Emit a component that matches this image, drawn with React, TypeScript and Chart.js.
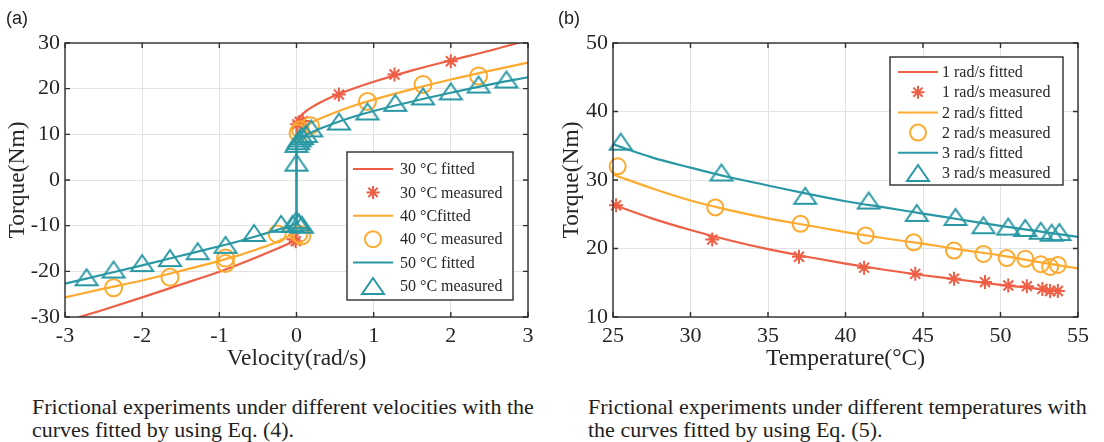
import React, { useEffect, useRef } from 'react';
import { Chart, registerables } from 'chart.js';

Chart.register(...registerables);

// ---------------- (a) torque vs velocity ----------------
const velMin = -3;
const velMax = 3;
const velStep = 1;
const torqueAMin = -30;
const torqueAMax = 30;
const torqueAStep = 10;

const velFitX = [-3, -2.5, -2, -1.5, -1, -0.75, -0.5, -0.3, -0.15, -0.05, 0, 0, 0.05, 0.15, 0.3, 0.5, 0.75, 1, 1.5, 2, 2.5, 3];
const fit30C = [-31.0, -28.4, -25.7, -22.9, -20.1, -18.5, -16.8, -15.4, -14.3, -13.5, -13.0, 12.3, 13.9, 15.4, 16.9, 18.5, 20.1, 21.5, 24.0, 26.2, 28.3, 30.6];
const fit40C = [-25.7, -23.8, -22.0, -19.9, -17.7, -16.5, -15.1, -13.9, -12.7, -11.8, -11.0, 10.0, 11.0, 12.2, 13.4, 14.8, 16.3, 17.6, 19.9, 22.0, 23.9, 25.7];
const fit50C = [-22.7, -20.7, -18.7, -16.6, -14.5, -13.4, -12.2, -11.2, -10.4, -9.9, -9.5, 8.0, 9.0, 10.1, 11.2, 12.5, 13.9, 15.1, 17.2, 19.1, 20.9, 22.5];

const meas30X = [-0.04, -0.01, 0.01, 0.04, 0.08, 0.55, 1.27, 2.0];
const meas30Y = [-13.0, -13.4, 12.2, 12.7, 12.9, 18.7, 23.1, 26.0];
const meas40X = [-2.37, -1.64, -0.92, -0.92, -0.25, 0.03, 0.07, 0.02, 0.05, 0.18, 0.92, 1.64, 2.36];
const meas40Y = [-23.6, -21.3, -17.1, -18.3, -11.8, -11.8, -12.2, 10.3, 11.0, 11.9, 17.2, 20.9, 22.8];
const meas50X = [-2.72, -2.37, -2.0, -1.64, -1.28, -0.92, -0.55, -0.2, -0.05, 0, 0.03, 0.07, 0, 0, 0.02, 0.04, 0.07, 0.12, 0.19, 0.55, 0.92, 1.28, 1.64, 2.0, 2.36, 2.72];
const meas50Y = [-21.3, -19.6, -18.2, -17.1, -15.6, -14.2, -11.6, -9.6, -9.6, -8.8, -9.3, -9.8, 3.8, 7.9, 8.5, 9.1, 9.6, 10.1, 11.3, 12.8, 15.0, 16.9, 18.3, 19.4, 20.9, 22.0];

const legendA = ['30 °C fitted', '30 °C measured', '40 °Cfitted', '40 °C measured', '50 °C fitted', '50 °C measured'];

// ---------------- (b) torque vs temperature ----------------
const tempMin = 25;
const tempMax = 55;
const tempStep = 5;
const torqueBMin = 10;
const torqueBMax = 50;
const torqueBStep = 10;

const fit1RadX = [25, 27.5, 30, 32.5, 35, 37.5, 40, 42.5, 45, 47.5, 50, 52.5, 54];
const fit1Rad = [26.4, 24.4, 22.7, 21.2, 19.9, 18.8, 17.8, 16.9, 16.1, 15.4, 14.7, 14.1, 13.8];
const tempFitX = [25, 27.5, 30, 32.5, 35, 37.5, 40, 42.5, 45, 47.5, 50, 52.5, 55];
const fit2Rad = [30.8, 28.8, 27.0, 25.6, 24.4, 23.4, 22.4, 21.5, 20.7, 19.8, 19.0, 18.0, 17.1];
const fit3Rad = [35.2, 33.3, 31.8, 30.4, 29.2, 28.0, 26.9, 26.0, 25.1, 24.2, 23.3, 22.5, 21.7];

const meas1RadX = [25.2, 31.4, 37.0, 41.2, 44.5, 47.0, 49.0, 50.5, 51.7, 52.7, 53.2, 53.7];
const meas1RadY = [26.3, 21.3, 18.8, 17.2, 16.3, 15.6, 15.1, 14.6, 14.5, 14.1, 13.8, 13.8];
const meas2RadX = [25.3, 31.6, 37.1, 41.3, 44.4, 47.0, 48.9, 50.4, 51.6, 52.6, 53.2, 53.7];
const meas2RadY = [32.0, 26.0, 23.6, 21.9, 20.9, 19.7, 19.2, 18.6, 18.5, 17.7, 17.3, 17.6];
const meas3RadX = [25.5, 32.0, 37.4, 41.5, 44.6, 47.1, 48.9, 50.5, 51.6, 52.6, 53.3, 53.8];
const meas3RadY = [35.6, 31.1, 27.7, 27.0, 25.2, 24.6, 23.4, 23.2, 23.0, 22.6, 22.3, 22.4];

const legendB = ['1 rad/s fitted', '1 rad/s measured', '2 rad/s fitted', '2 rad/s measured', '3 rad/s fitted', '3 rad/s measured'];

// ---------------- styles ----------------
const RED = '#EF5F46';
const ORANGE = '#FDAA2E';
const TEAL = '#2A98A4';
const INK = '#262626';
const GRID = '#e2e2e2';
const SERIF = '"Liberation Serif", "Times New Roman", serif';

const pts = (xs: number[], ys: number[]) => xs.map((x, i) => ({ x, y: ys[i] }));

function makeTriangle(color: string) {
  const c = document.createElement('canvas');
  const w = 22, h = 16, m = 3;
  c.width = w + 2 * m;
  c.height = h + 2 * m;
  const g = c.getContext('2d')!;
  g.strokeStyle = color;
  g.lineWidth = 2;
  g.lineJoin = 'miter';
  g.beginPath();
  g.moveTo(m + w / 2, m);
  g.lineTo(m + w, m + h);
  g.lineTo(m, m + h);
  g.closePath();
  g.stroke();
  return c;
}

function drawMarker(ctx: CanvasRenderingContext2D, kind: string, x: number, y: number, color: string, img?: HTMLCanvasElement) {
  ctx.save();
  ctx.strokeStyle = color;
  ctx.lineWidth = 2;
  ctx.beginPath();
  if (kind === 'circle') {
    ctx.arc(x, y, 8, 0, Math.PI * 2);
    ctx.stroke();
  } else if (kind === 'star') {
    const r = 6.5;
    for (let k = 0; k < 4; k++) {
      const a = (k * Math.PI) / 4;
      ctx.moveTo(x - Math.cos(a) * r, y - Math.sin(a) * r);
      ctx.lineTo(x + Math.cos(a) * r, y + Math.sin(a) * r);
    }
    ctx.stroke();
  } else if (kind === 'triangle' && img) {
    ctx.drawImage(img, x - img.width / 2, y - img.height / 2);
  }
  ctx.restore();
}

const framePlugin = {
  id: 'matlabFrame',
  afterDatasetsDraw(chart: any) {
    const { ctx, chartArea: a, scales } = chart;
    ctx.save();
    ctx.strokeStyle = '#2e2e2e';
    ctx.lineWidth = 1.4;
    ctx.strokeRect(a.left, a.top, a.right - a.left, a.bottom - a.top);
    const L = 5;
    ctx.beginPath();
    scales.x.ticks.forEach((t: any) => {
      const px = scales.x.getPixelForValue(t.value);
      ctx.moveTo(px, a.bottom);
      ctx.lineTo(px, a.bottom - L);
      ctx.moveTo(px, a.top);
      ctx.lineTo(px, a.top + L);
    });
    scales.y.ticks.forEach((t: any) => {
      const py = scales.y.getPixelForValue(t.value);
      ctx.moveTo(a.left, py);
      ctx.lineTo(a.left + L, py);
      ctx.moveTo(a.right, py);
      ctx.lineTo(a.right - L, py);
    });
    ctx.stroke();
    ctx.restore();
  },
};

const boxLegendPlugin = {
  id: 'boxLegend',
  afterDraw(chart: any, _args: any, o: any) {
    if (!o || !o.entries) return;
    const ctx: CanvasRenderingContext2D = chart.ctx;
    ctx.save();
    ctx.fillStyle = '#ffffff';
    ctx.fillRect(o.x, o.y, o.w, o.h);
    ctx.strokeStyle = '#2e2e2e';
    ctx.lineWidth = 1.4;
    ctx.strokeRect(o.x, o.y, o.w, o.h);
    ctx.font = `16px ${SERIF}`;
    ctx.textBaseline = 'middle';
    ctx.textAlign = 'left';
    o.entries.forEach((e: any, i: number) => {
      const y = o.row0 + i * o.rowStep;
      if (e.kind === 'line') {
        ctx.strokeStyle = e.color;
        ctx.lineWidth = 2;
        ctx.beginPath();
        ctx.moveTo(o.lineX0, y);
        ctx.lineTo(o.lineX1, y);
        ctx.stroke();
      } else {
        drawMarker(ctx, e.kind, (o.lineX0 + o.lineX1) / 2, y, e.color, e.img);
      }
      ctx.fillStyle = INK;
      ctx.fillText(e.label, o.textX, y + 1);
    });
    ctx.restore();
  },
};

function axisOptions(min: number, max: number, step: number, title: string, isX: boolean, size: number, titlePad: number) {
  return {
    type: 'linear',
    min,
    max,
    ticks: {
      stepSize: step,
      color: INK,
      font: { family: SERIF, size: 22 },
      padding: isX ? 6 : 5,
      maxRotation: 0,
      autoSkip: false,
    },
    grid: { color: GRID, lineWidth: 1, drawTicks: false },
    border: { display: false },
    title: {
      display: true,
      text: title,
      color: INK,
      font: { family: SERIF, size: 23.5 },
      padding: isX ? { top: 0, bottom: titlePad } : { top: titlePad, bottom: 0 },
    },
    afterFit: (s: any) => {
      if (isX) s.height = size;
      else s.width = size;
    },
  };
}

function fitted(label: string, xs: number[], ys: number[], color: string, order: number) {
  return {
    label,
    data: pts(xs, ys),
    borderColor: color,
    borderWidth: 2.2,
    pointRadius: 0,
    fill: false,
    cubicInterpolationMode: 'monotone',
    order,
  };
}

function measured(label: string, xs: number[], ys: number[], color: string, style: any, radius: number, order: number) {
  return {
    label,
    data: pts(xs, ys),
    showLine: false,
    borderColor: color,
    backgroundColor: 'rgba(0,0,0,0)',
    pointBorderColor: color,
    pointBackgroundColor: 'rgba(0,0,0,0)',
    pointBorderWidth: 2,
    pointStyle: style,
    pointRadius: radius,
    clip: false,
    order,
  };
}

export default function App() {
  const leftRef = useRef<HTMLCanvasElement>(null);
  const rightRef = useRef<HTMLCanvasElement>(null);

  useEffect(() => {
    const triTeal = makeTriangle(TEAL);

    const left = new Chart(leftRef.current!, {
      type: 'line',
      data: {
        datasets: [
          measured(legendA[5], meas50X, meas50Y, TEAL, triTeal, 8, 0),
          fitted(legendA[4], velFitX, fit50C, TEAL, 1),
          measured(legendA[3], meas40X, meas40Y, ORANGE, 'circle', 8.5, 2),
          fitted(legendA[2], velFitX, fit40C, ORANGE, 3),
          measured(legendA[1], meas30X, meas30Y, RED, 'star', 7, 4),
          fitted(legendA[0], velFitX, fit30C, RED, 5),
        ] as any,
      },
      options: {
        responsive: false,
        animation: false,
        events: [],
        layout: { padding: { left: 0, top: 43, right: 22, bottom: 0 } },
        plugins: {
          legend: { display: false },
          tooltip: { enabled: false },
          boxLegend: {
            x: 347, y: 152, w: 166, h: 148,
            row0: 169, rowStep: 23.4,
            lineX0: 353, lineX1: 393, textX: 400,
            entries: [
              { kind: 'line', color: RED, label: legendA[0] },
              { kind: 'star', color: RED, label: legendA[1] },
              { kind: 'line', color: ORANGE, label: legendA[2] },
              { kind: 'circle', color: ORANGE, label: legendA[3] },
              { kind: 'line', color: TEAL, label: legendA[4] },
              { kind: 'triangle', color: TEAL, label: legendA[5], img: triTeal },
            ],
          },
        } as any,
        scales: {
          x: axisOptions(velMin, velMax, velStep, 'Velocity(rad/s)', true, 63, 7),
          y: axisOptions(torqueAMin, torqueAMax, torqueAStep, 'Torque(Nm)', false, 65, 4),
        } as any,
      },
      plugins: [framePlugin, boxLegendPlugin],
    });

    const right = new Chart(rightRef.current!, {
      type: 'line',
      data: {
        datasets: [
          measured(legendB[5], meas3RadX, meas3RadY, TEAL, triTeal, 8, 0),
          fitted(legendB[4], tempFitX, fit3Rad, TEAL, 1),
          measured(legendB[3], meas2RadX, meas2RadY, ORANGE, 'circle', 8, 2),
          fitted(legendB[2], tempFitX, fit2Rad, ORANGE, 3),
          measured(legendB[1], meas1RadX, meas1RadY, RED, 'star', 7, 4),
          fitted(legendB[0], fit1RadX, fit1Rad, RED, 5),
        ] as any,
      },
      options: {
        responsive: false,
        animation: false,
        events: [],
        layout: { padding: { left: 0, top: 43, right: 26, bottom: 0 } },
        plugins: {
          legend: { display: false },
          tooltip: { enabled: false },
          boxLegend: {
            x: 340, y: 57, w: 173, h: 128,
            row0: 72, rowStep: 20.2,
            lineX0: 348, lineX1: 388, textX: 392,
            entries: [
              { kind: 'line', color: RED, label: legendB[0] },
              { kind: 'star', color: RED, label: legendB[1] },
              { kind: 'line', color: ORANGE, label: legendB[2] },
              { kind: 'circle', color: ORANGE, label: legendB[3] },
              { kind: 'line', color: TEAL, label: legendB[4] },
              { kind: 'triangle', color: TEAL, label: legendB[5], img: triTeal },
            ],
          },
        } as any,
        scales: {
          x: axisOptions(tempMin, tempMax, tempStep, 'Temperature(°C)', true, 63, 7),
          y: axisOptions(torqueBMin, torqueBMax, torqueBStep, 'Torque(Nm)', false, 63, 8),
        } as any,
      },
      plugins: [framePlugin, boxLegendPlugin],
    });

    return () => {
      left.destroy();
      right.destroy();
    };
  }, []);

  const caption: React.CSSProperties = {
    position: 'absolute',
    fontFamily: SERIF,
    fontSize: 22,
    lineHeight: '23px',
    color: '#1e1e1e',
    whiteSpace: 'pre',
  };
  const panel: React.CSSProperties = {
    position: 'absolute',
    fontFamily: '"Liberation Sans", Arial, sans-serif',
    fontSize: 18,
    lineHeight: '20px',
    color: '#1e1e1e',
  };

  return (
    <div style={{ position: 'absolute', left: 0, top: 0, width: 1104, height: 442, background: '#ffffff', overflow: 'hidden' }}>
      <canvas ref={leftRef} width={550} height={380} style={{ position: 'absolute', left: 0, top: 0 }} />
      <canvas ref={rightRef} width={554} height={380} style={{ position: 'absolute', left: 550, top: 0 }} />
      <div style={{ ...panel, left: 6, top: 8 }}>(a)</div>
      <div style={{ ...panel, left: 558, top: 8 }}>(b)</div>
      <div style={{ ...caption, left: 32, top: 395 }}>{'Frictional experiments under different velocities with the\ncurves fitted by using Eq. (4).'}</div>
      <div style={{ ...caption, left: 588, top: 395 }}>{'Frictional experiments under different temperatures with\nthe curves fitted by using Eq. (5).'}</div>
    </div>
  );
}
